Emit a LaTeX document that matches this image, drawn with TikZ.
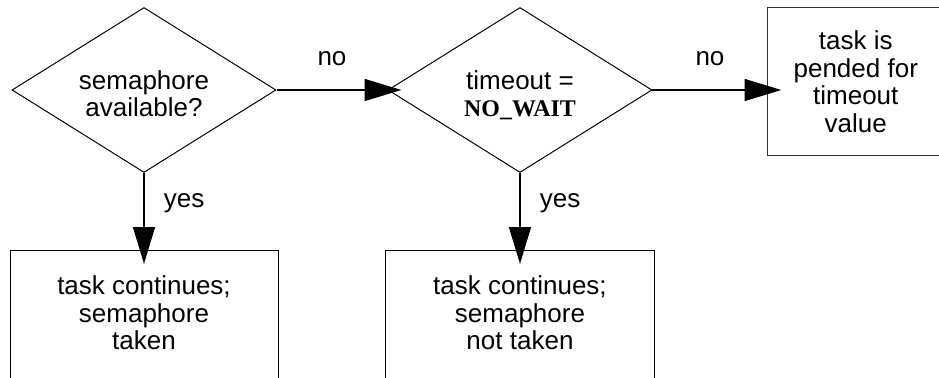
\documentclass[tikz,border=0pt]{standalone}
\usepackage{fontspec}
\setmainfont{Liberation Sans}
\newfontfamily\waitfont{Liberation Serif}
\usetikzlibrary{positioning, shapes.geometric, arrows.meta}

\begin{document}
\begin{tikzpicture}[
 node distance=1.925cm and 2.775cm,
 decision/.style={draw, diamond, aspect=1.6, inner sep=1pt, minimum width=6.6cm, minimum height=4.125cm, align=center, text height=1.5cm, text depth=0.15cm, line width=0.7pt},
 outcome/.style={draw, rectangle, minimum width=6.7cm, align=center, text height=2.36cm, text depth=1.6cm, line width=0.7pt},
 pending/.style={draw=black!80, rectangle, minimum width=4.39cm, minimum height=3.69cm, align=center, line width=0.7pt},
 arrow/.style={-{Triangle[length=0.92cm, width=0.54cm]}, line width=1.8pt, shorten >=-0.35cm},
 font=\fontsize{18.5pt}{19.6pt}\selectfont
 ]

  \useasboundingbox (0,0) rectangle (23.475,-9.45);

  % Decisions
  \node[decision] at (3.6,-2.25) (dec_avail) {semaphore\\available?};
  \node[decision, right=of dec_avail] (dec_wait) {timeout =\\{\waitfont\bfseries\fontsize{17pt}{19.6pt}\selectfont NO\_WAIT}};

  % Outcomes
  \node[pending, right=2.875cm of dec_wait, yshift=0.2125cm] (pend) {task is\\pended for\\timeout\\value};
  \node[outcome, below=of dec_avail] (taken) {task continues;\\semaphore\\taken};
  \node[outcome, below=of dec_wait] (not_taken) {task continues;\\semaphore\\not taken};

  % Arrows
  \draw[arrow] (dec_avail) -- node[above=0.45cm] (no_avail) {no} (dec_wait);
  \draw[arrow] (dec_wait) -- node[above=0.45cm] (no_wait) {no} (dec_wait -| pend.west);
  \draw[arrow] (dec_avail) -- node[pos=0.39, right=0.35cm] (yes_avail) {yes} (taken);
  \draw[arrow] (dec_wait) -- node[pos=0.39, right=0.35cm] (yes_wait) {yes} (not_taken);

\end{tikzpicture}
\end{document}
